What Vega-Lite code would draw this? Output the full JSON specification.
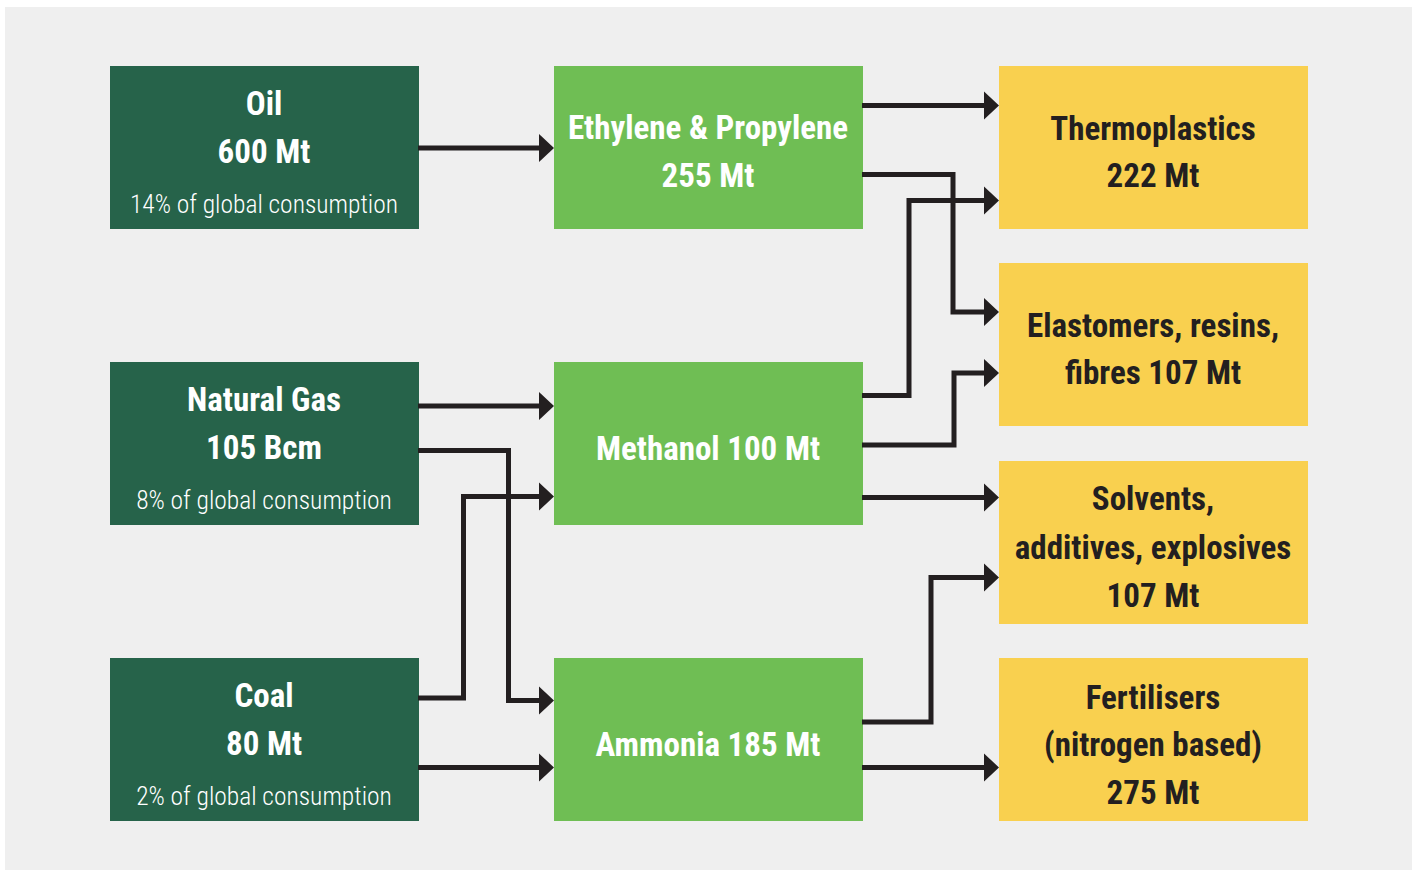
{
  "$schema": "https://vega.github.io/schema/vega-lite/v6.json",
  "width": 1416,
  "height": 870,
  "padding": 0,
  "autosize": {"type": "fit", "contains": "padding"},
  "background": "white",
  "config": {"view": {"stroke": null}},
  "datasets": {
    "panel": [{"x": 5, "x2": 1412, "y": 7, "y2": 870}],
    "boxes": [
      {"name": "Oil", "tier": "source", "x": 110, "x2": 419, "y": 66, "y2": 229},
      {"name": "Natural Gas", "tier": "source", "x": 110, "x2": 419, "y": 362, "y2": 525},
      {"name": "Coal", "tier": "source", "x": 110, "x2": 419, "y": 658, "y2": 821},
      {"name": "Ethylene & Propylene", "tier": "intermediate", "x": 554, "x2": 863, "y": 66, "y2": 229},
      {"name": "Methanol", "tier": "intermediate", "x": 554, "x2": 863, "y": 362, "y2": 525},
      {"name": "Ammonia", "tier": "intermediate", "x": 554, "x2": 863, "y": 658, "y2": 821},
      {"name": "Thermoplastics", "tier": "product", "x": 999, "x2": 1308, "y": 66, "y2": 229},
      {"name": "Elastomers", "tier": "product", "x": 999, "x2": 1308, "y": 263, "y2": 426},
      {"name": "Solvents", "tier": "product", "x": 999, "x2": 1308, "y": 461, "y2": 624},
      {"name": "Fertilisers", "tier": "product", "x": 999, "x2": 1308, "y": 658, "y2": 821}
    ],
    "labels": [
      {"tier": "source", "kind": "title", "text": "Oil", "x": 264, "y": 115},
      {"tier": "source", "kind": "title", "text": "600 Mt", "x": 264, "y": 163},
      {"tier": "source", "kind": "note", "text": "14% of global consumption", "x": 264, "y": 213},
      {"tier": "source", "kind": "title", "text": "Natural Gas", "x": 264, "y": 411},
      {"tier": "source", "kind": "title", "text": "105 Bcm", "x": 264, "y": 459},
      {"tier": "source", "kind": "note", "text": "8% of global consumption", "x": 264, "y": 509},
      {"tier": "source", "kind": "title", "text": "Coal", "x": 264, "y": 707},
      {"tier": "source", "kind": "title", "text": "80 Mt", "x": 264, "y": 755},
      {"tier": "source", "kind": "note", "text": "2% of global consumption", "x": 264, "y": 805},
      {"tier": "intermediate", "kind": "title", "text": "Ethylene & Propylene", "x": 708, "y": 139},
      {"tier": "intermediate", "kind": "title", "text": "255 Mt", "x": 708, "y": 187},
      {"tier": "intermediate", "kind": "title", "text": "Methanol 100 Mt", "x": 708, "y": 460},
      {"tier": "intermediate", "kind": "title", "text": "Ammonia 185 Mt", "x": 708, "y": 756},
      {"tier": "product", "kind": "title", "text": "Thermoplastics", "x": 1153, "y": 140},
      {"tier": "product", "kind": "title", "text": "222 Mt", "x": 1153, "y": 187},
      {"tier": "product", "kind": "title", "text": "Elastomers, resins,", "x": 1153, "y": 337},
      {"tier": "product", "kind": "title", "text": "fibres 107 Mt", "x": 1153, "y": 384},
      {"tier": "product", "kind": "title", "text": "Solvents,", "x": 1153, "y": 510},
      {"tier": "product", "kind": "title", "text": "additives, explosives", "x": 1153, "y": 559},
      {"tier": "product", "kind": "title", "text": "107 Mt", "x": 1153, "y": 607},
      {"tier": "product", "kind": "title", "text": "Fertilisers", "x": 1153, "y": 709},
      {"tier": "product", "kind": "title", "text": "(nitrogen based)", "x": 1153, "y": 756},
      {"tier": "product", "kind": "title", "text": "275 Mt", "x": 1153, "y": 804}
    ],
    "paths": [
      {"arrow": "A1", "order": 1, "x": 418, "y": 148},
      {"arrow": "A1", "order": 2, "x": 544, "y": 148},
      {"arrow": "A2", "order": 1, "x": 862, "y": 105.5},
      {"arrow": "A2", "order": 2, "x": 989, "y": 105.5},
      {"arrow": "A3", "order": 1, "x": 862, "y": 174.5},
      {"arrow": "A3", "order": 2, "x": 953, "y": 174.5},
      {"arrow": "A3", "order": 3, "x": 953, "y": 312},
      {"arrow": "A3", "order": 4, "x": 989, "y": 312},
      {"arrow": "A4", "order": 1, "x": 862, "y": 395.5},
      {"arrow": "A4", "order": 2, "x": 909, "y": 395.5},
      {"arrow": "A4", "order": 3, "x": 909, "y": 200.5},
      {"arrow": "A4", "order": 4, "x": 989, "y": 200.5},
      {"arrow": "A5", "order": 1, "x": 862, "y": 445},
      {"arrow": "A5", "order": 2, "x": 954, "y": 445},
      {"arrow": "A5", "order": 3, "x": 954, "y": 373},
      {"arrow": "A5", "order": 4, "x": 989, "y": 373},
      {"arrow": "A6", "order": 1, "x": 862, "y": 497.5},
      {"arrow": "A6", "order": 2, "x": 989, "y": 497.5},
      {"arrow": "A7", "order": 1, "x": 862, "y": 722},
      {"arrow": "A7", "order": 2, "x": 931, "y": 722},
      {"arrow": "A7", "order": 3, "x": 931, "y": 577.5},
      {"arrow": "A7", "order": 4, "x": 989, "y": 577.5},
      {"arrow": "A8", "order": 1, "x": 862, "y": 767.5},
      {"arrow": "A8", "order": 2, "x": 989, "y": 767.5},
      {"arrow": "A9", "order": 1, "x": 418, "y": 406},
      {"arrow": "A9", "order": 2, "x": 544, "y": 406},
      {"arrow": "A10", "order": 1, "x": 418, "y": 450.5},
      {"arrow": "A10", "order": 2, "x": 508.5, "y": 450.5},
      {"arrow": "A10", "order": 3, "x": 508.5, "y": 700.5},
      {"arrow": "A10", "order": 4, "x": 544, "y": 700.5},
      {"arrow": "A11", "order": 1, "x": 418, "y": 698},
      {"arrow": "A11", "order": 2, "x": 463.5, "y": 698},
      {"arrow": "A11", "order": 3, "x": 463.5, "y": 496.5},
      {"arrow": "A11", "order": 4, "x": 544, "y": 496.5},
      {"arrow": "A12", "order": 1, "x": 418, "y": 767.5},
      {"arrow": "A12", "order": 2, "x": 544, "y": 767.5}
    ],
    "heads": [
      {"arrow": "A1", "x": 554, "y": 148},
      {"arrow": "A2", "x": 999, "y": 105.5},
      {"arrow": "A3", "x": 999, "y": 312},
      {"arrow": "A4", "x": 999, "y": 200.5},
      {"arrow": "A5", "x": 999, "y": 373},
      {"arrow": "A6", "x": 999, "y": 497.5},
      {"arrow": "A7", "x": 999, "y": 577.5},
      {"arrow": "A8", "x": 999, "y": 767.5},
      {"arrow": "A9", "x": 554, "y": 406},
      {"arrow": "A10", "x": 554, "y": 700.5},
      {"arrow": "A11", "x": 554, "y": 496.5},
      {"arrow": "A12", "x": 554, "y": 767.5}
    ]
  },
  "layer": [
    {
      "data": {"name": "panel"},
      "mark": {"type": "rect", "color": "#efefef"},
      "encoding": {
        "x": {"field": "x", "type": "quantitative", "scale": {"domain": [0, 1416], "nice": false, "zero": false}, "axis": null},
        "x2": {"field": "x2"},
        "y": {"field": "y", "type": "quantitative", "scale": {"domain": [0, 870], "nice": false, "zero": false, "reverse": true}, "axis": null},
        "y2": {"field": "y2"}
      }
    },
    {
      "data": {"name": "boxes"},
      "mark": {"type": "rect"},
      "encoding": {
        "x": {"field": "x", "type": "quantitative"},
        "x2": {"field": "x2"},
        "y": {"field": "y", "type": "quantitative"},
        "y2": {"field": "y2"},
        "color": {"field": "tier", "type": "nominal", "legend": null,
          "scale": {"domain": ["source", "intermediate", "product"], "range": ["#26634a", "#6fbe54", "#f9d04f"]}}
      }
    },
    {
      "data": {"name": "paths"},
      "mark": {"type": "line", "color": "#231f20", "strokeWidth": 5, "strokeJoin": "miter", "strokeCap": "butt", "interpolate": "linear"},
      "encoding": {
        "x": {"field": "x", "type": "quantitative"},
        "y": {"field": "y", "type": "quantitative"},
        "detail": {"field": "arrow", "type": "nominal"},
        "order": {"field": "order", "type": "quantitative"}
      }
    },
    {
      "data": {"name": "heads"},
      "mark": {"type": "point", "shape": "M-1.07,-1L0,0L-1.07,1Z", "filled": true, "size": 784, "color": "#231f20", "opacity": 1, "strokeWidth": 0},
      "encoding": {
        "x": {"field": "x", "type": "quantitative"},
        "y": {"field": "y", "type": "quantitative"}
      }
    },
    {
      "data": {"name": "labels"},
      "transform": [{"filter": "datum.kind === 'title'"}],
      "mark": {"type": "text", "font": "Roboto Condensed, DejaVu Sans Condensed, sans-serif", "fontWeight": "bold", "fontSize": 33, "align": "center", "baseline": "alphabetic"},
      "encoding": {
        "x": {"field": "x", "type": "quantitative"},
        "y": {"field": "y", "type": "quantitative"},
        "text": {"field": "text"},
        "color": {"condition": {"test": "datum.tier === 'product'", "value": "#231f20"}, "value": "#ffffff"}
      }
    },
    {
      "data": {"name": "labels"},
      "transform": [{"filter": "datum.kind === 'note'"}],
      "mark": {"type": "text", "font": "Roboto Condensed, DejaVu Sans Condensed, sans-serif", "fontWeight": 300, "fontSize": 25.5, "align": "center", "baseline": "alphabetic"},
      "encoding": {
        "x": {"field": "x", "type": "quantitative"},
        "y": {"field": "y", "type": "quantitative"},
        "text": {"field": "text"},
        "color": {"value": "#ffffff"}
      }
    }
  ]
}
